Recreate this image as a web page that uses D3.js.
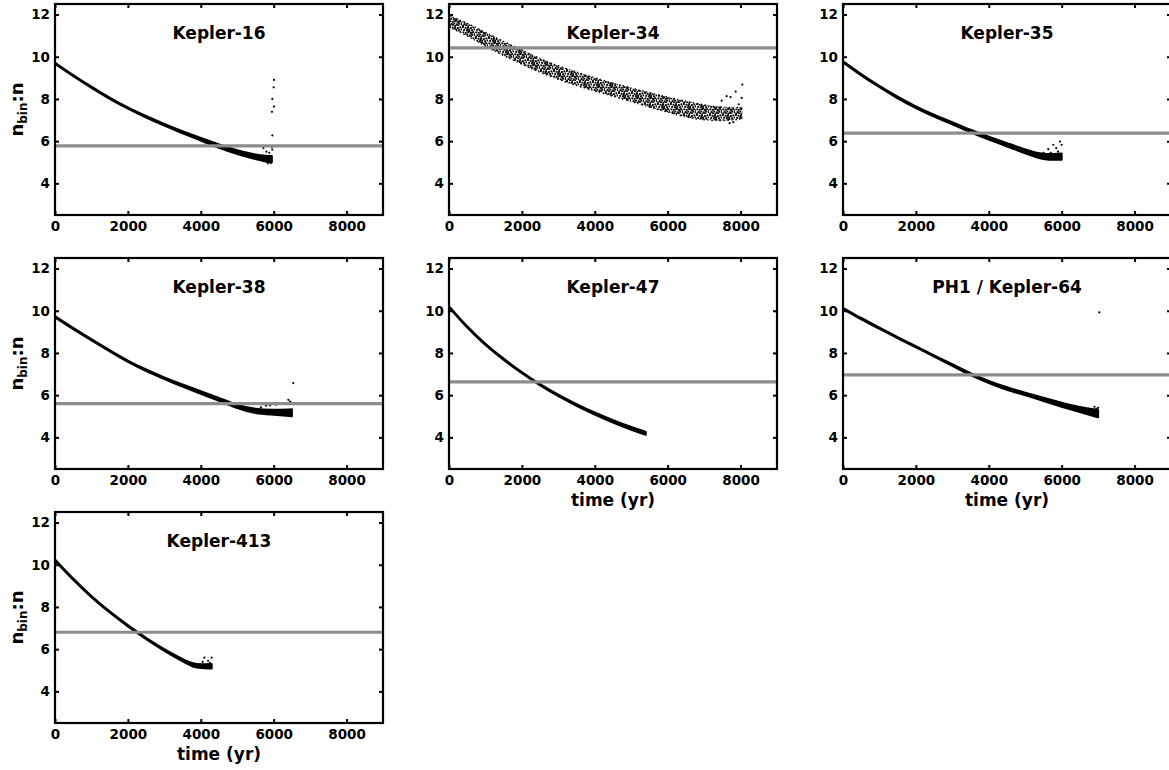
<!DOCTYPE html>
<html>
<head>
<meta charset="utf-8">
<script src="https://cdn.jsdelivr.net/npm/d3@7"></script>
<style>
  body { margin: 0; background: #fff; }
  svg text { font-family: "DejaVu Sans", sans-serif; font-weight: bold; fill: #000; }
</style>
</head>
<body>
<svg id="chart" width="1169" height="770"></svg>
<script>
// tick values shared by every panel
var xTicks = [0, 2000, 4000, 6000, 8000];
var yTicks = [4, 6, 8, 10, 12];

// panel names and the grey reference levels
var names = ["Kepler-16", "Kepler-34", "Kepler-35", "Kepler-38", "Kepler-47", "PH1 / Kepler-64", "Kepler-413"];
var refLevels = [5.78, 10.42, 6.38, 5.6, 6.63, 6.96, 6.8];

// Kepler-16
var k16Time  = [0, 500, 1000, 1500, 2000, 2500, 3000, 3500, 4000, 4500, 5000, 5500, 5800, 5950];
var k16Upper = [9.72, 9.13, 8.58, 8.06, 7.59, 7.19, 6.81, 6.47, 6.15, 5.84, 5.56, 5.36, 5.30, 5.30];
var k16Lower = [9.66, 9.07, 8.52, 8.00, 7.53, 7.11, 6.73, 6.37, 6.03, 5.68, 5.38, 5.14, 5.02, 5.00];
var k16Dots  = [[5950, 5.72], [5963, 6.27], [5954, 7.39], [6009, 7.64], [5963, 8.0], [6000, 8.55], [6009, 8.9], [5717, 5.67], [5960, 5.6], [5800, 5.5], [5880, 5.45], [5840, 4.95], [5920, 4.97]];

// Kepler-34 (wide scatter band)
var k34Time  = [0, 500, 1000, 1500, 2000, 2500, 3000, 3500, 4000, 4500, 5000, 5500, 6000, 6500, 7000, 7500, 8050];
var k34Upper = [11.95, 11.6, 11.15, 10.72, 10.33, 9.9, 9.57, 9.27, 9.0, 8.75, 8.52, 8.3, 8.1, 7.88, 7.72, 7.58, 7.6];
var k34Lower = [11.40, 11.0, 10.5, 10.05, 9.65, 9.25, 8.93, 8.63, 8.38, 8.12, 7.88, 7.6, 7.38, 7.12, 7.0, 6.95, 7.05];
var k34Dots  = [[7483, 7.92], [7618, 8.13], [7727, 8.09], [7866, 8.35], [8030, 8.05], [8048, 8.68], [7440, 7.6], [7700, 6.85], [7800, 6.9], [7950, 7.75]];

// Kepler-35
var k35Time  = [0, 500, 1000, 1500, 2000, 2500, 3000, 3500, 4000, 4500, 5000, 5500, 6000];
var k35Upper = [9.79, 9.17, 8.61, 8.10, 7.64, 7.25, 6.90, 6.53, 6.21, 5.91, 5.60, 5.35, 5.42];
var k35Lower = [9.73, 9.11, 8.55, 8.02, 7.56, 7.15, 6.80, 6.41, 6.07, 5.75, 5.42, 5.10, 5.12];
var k35Dots  = [[5954, 5.98], [6000, 5.83], [5771, 5.83], [5850, 5.67], [5633, 5.62], [5700, 5.44], [5900, 5.5], [5500, 5.45]];

// Kepler-38
var k38Time  = [0, 500, 1000, 1500, 2000, 2500, 3000, 3500, 4000, 4500, 5000, 5500, 6000, 6500];
var k38Upper = [9.75, 9.18, 8.65, 8.13, 7.62, 7.21, 6.84, 6.50, 6.19, 5.87, 5.53, 5.32, 5.30, 5.33];
var k38Lower = [9.69, 9.12, 8.59, 8.07, 7.56, 7.13, 6.76, 6.40, 6.07, 5.73, 5.37, 5.12, 5.08, 5.00];
var k38Dots  = [[6539, 6.57], [6402, 5.78], [6450, 5.7], [6338, 5.62], [6064, 5.55], [5900, 5.52], [5790, 5.5], [6200, 5.6], [5650, 5.42], [6480, 5.65]];

// Kepler-47
var k47Time  = [0, 500, 1000, 1500, 2000, 2500, 3000, 3500, 4000, 4500, 5000, 5400];
var k47Upper = [10.22, 9.24, 8.42, 7.72, 7.09, 6.51, 6.02, 5.57, 5.17, 4.81, 4.49, 4.26];
var k47Lower = [10.16, 9.18, 8.36, 7.66, 7.03, 6.45, 5.94, 5.49, 5.07, 4.69, 4.35, 4.12];
var k47Dots  = [];

// PH1 / Kepler-64
var k64Time  = [0, 500, 1000, 1500, 2000, 2500, 3000, 3500, 4000, 4500, 5000, 5500, 6000, 6500, 7000];
var k64Upper = [10.14, 9.65, 9.20, 8.75, 8.33, 7.88, 7.47, 7.03, 6.67, 6.36, 6.12, 5.88, 5.64, 5.42, 5.30];
var k64Lower = [10.08, 9.59, 9.14, 8.69, 8.27, 7.82, 7.39, 6.93, 6.57, 6.24, 6.00, 5.72, 5.45, 5.20, 4.95];
var k64Dots  = [[7033, 9.92], [6900, 5.45], [6950, 5.35], [7000, 5.4]];

// Kepler-413
var k413Time  = [0, 500, 1000, 1500, 2000, 2500, 3000, 3500, 3800, 4000, 4300];
var k413Upper = [10.25, 9.33, 8.51, 7.78, 7.13, 6.53, 5.99, 5.52, 5.30, 5.28, 5.30];
var k413Lower = [10.19, 9.27, 8.45, 7.72, 7.07, 6.47, 5.91, 5.42, 5.14, 5.10, 5.08];
var k413Dots  = [[4100, 5.6], [4300, 5.6], [4200, 5.45], [4050, 5.4], [4250, 5.35]];

var series = [
  { time: k16Time, upper: k16Upper, lower: k16Lower, dots: k16Dots },
  { time: k34Time, upper: k34Upper, lower: k34Lower, dots: k34Dots, speckle: true },
  { time: k35Time, upper: k35Upper, lower: k35Lower, dots: k35Dots },
  { time: k38Time, upper: k38Upper, lower: k38Lower, dots: k38Dots },
  { time: k47Time, upper: k47Upper, lower: k47Lower, dots: k47Dots },
  { time: k64Time, upper: k64Upper, lower: k64Lower, dots: k64Dots },
  { time: k413Time, upper: k413Upper, lower: k413Lower, dots: k413Dots }
];

var colLeft = [55, 449, 843];
var rowTop = [4, 258, 512];
var width = 328, height = 211;

var svg = d3.select("#chart");

// speckled fill for the wide Kepler-34 band (hand placed, irregular)
var pat = svg.append("defs").append("pattern")
  .attr("id", "speckle")
  .attr("patternUnits", "userSpaceOnUse")
  .attr("width", 13).attr("height", 11);
[[0, 0], [2.6, 0.8], [5.1, 0.2], [7.9, 1.1], [10.4, 0.4], [1.2, 2.9], [3.9, 3.4], [6.3, 2.6],
 [9.1, 3.3], [11.6, 2.5], [0.4, 5.4], [2.8, 5.9], [5.2, 5.1], [7.6, 5.7], [10.2, 5.2],
 [1.7, 8.1], [4.3, 7.6], [6.9, 8.4], [9.3, 7.8], [11.9, 8.3], [0.2, 9.6], [5.6, 9.9], [8.2, 9.7], [3.1, 9.5],
 [12.1, 6.6], [8.5, 6.3], [4.6, 1.9], [6.1, 4.2]
].forEach(function (p) {
  pat.append("rect").attr("x", p[0]).attr("y", p[1]).attr("width", 1.9).attr("height", 1.9).attr("fill", "#000");
});

var x = d3.scaleLinear().domain([0, 9000]).range([0, width]);
var y = d3.scaleLinear().domain([2.5, 12.5]).range([height, 0]);

series.forEach(function (s, i) {
  var col = i % 3, row = Math.floor(i / 3);
  var g = svg.append("g")
    .attr("transform", "translate(" + colLeft[col] + "," + rowTop[row] + ")");

  var rows = s.time.map(function (t, k) { return { t: t, hi: s.upper[k], lo: s.lower[k] }; });

  var area = d3.area()
    .curve(d3.curveBasis)
    .x(function (d) { return x(d.t); })
    .y0(function (d) { return y(d.lo); })
    .y1(function (d) { return y(d.hi); });

  if (s.speckle) {
    g.append("path").datum(rows).attr("d", area).attr("fill", "url(#speckle)");
    ["hi", "lo"].forEach(function (key) {
      g.append("path").datum(rows)
        .attr("d", d3.line().curve(d3.curveBasis).x(function (d) { return x(d.t); }).y(function (d) { return y(d[key]); }))
        .attr("fill", "none").attr("stroke", "#000").attr("stroke-width", 1.4).attr("stroke-dasharray", "1.5 2.5 1 3");
    });
  } else {
    g.append("path").datum(rows).attr("d", area)
      .attr("fill", "#000").attr("stroke", "#000").attr("stroke-width", 2).attr("stroke-linejoin", "round");
  }

  // loose points at the end of the run
  g.selectAll(".dot").data(s.dots).enter().append("circle")
    .attr("cx", function (d) { return x(d[0]); })
    .attr("cy", function (d) { return y(d[1]); })
    .attr("r", 1.1).attr("fill", "#000");

  // grey reference level
  g.append("line")
    .attr("x1", x(0)).attr("x2", x(9000))
    .attr("y1", y(refLevels[i])).attr("y2", y(refLevels[i]))
    .attr("stroke", "#8c8c8c").attr("stroke-width", 3.2);

  //add axes, ticks pointing inwards
  var bottom = g.append("g").attr("transform", "translate(0," + height + ")")
    .call(d3.axisBottom(x).tickValues(xTicks).tickFormat(d3.format("d")).tickSize(-4).tickPadding(6));
  var left = g.append("g")
    .call(d3.axisLeft(y).tickValues(yTicks).tickFormat(d3.format("d")).tickSize(-4).tickPadding(5));
  var top = g.append("g")
    .call(d3.axisTop(x).tickValues(xTicks).tickSize(-4).tickFormat(""));
  var right = g.append("g").attr("transform", "translate(" + width + ",0)")
    .call(d3.axisRight(y).tickValues(yTicks).tickSize(-4).tickFormat(""));

  [bottom, left, top, right].forEach(function (a) {
    a.select(".domain").remove();
    a.selectAll(".tick line").attr("stroke", "#000").attr("stroke-width", 2);
    a.selectAll(".tick text").style("font-size", "13.5px").style("font-family", "DejaVu Sans").style("font-weight", "bold").attr("fill", "#000");
  });

  // frame
  g.append("rect").attr("width", width).attr("height", height)
    .attr("fill", "none").attr("stroke", "#000").attr("stroke-width", 2.2);

  // title
  g.append("text").attr("x", width / 2).attr("y", 35)
    .attr("text-anchor", "middle").style("font-size", "17px")
    .text(names[i]);

  if (col === 0) {
    var lab = g.append("text")
      .attr("transform", "translate(-32," + (height / 2) + ") rotate(-90)")
      .attr("text-anchor", "middle").style("font-size", "18px");
    lab.append("tspan").text("n");
    lab.append("tspan").attr("dy", 4).style("font-size", "12px").text("bin");
    lab.append("tspan").attr("dy", -4).text(":n");
  }
  if (i >= 4) {
    g.append("text").attr("x", width / 2).attr("y", height + 37)
      .attr("text-anchor", "middle").style("font-size", "17px")
      .text("time (yr)");
  }
});
</script>
</body>
</html>
